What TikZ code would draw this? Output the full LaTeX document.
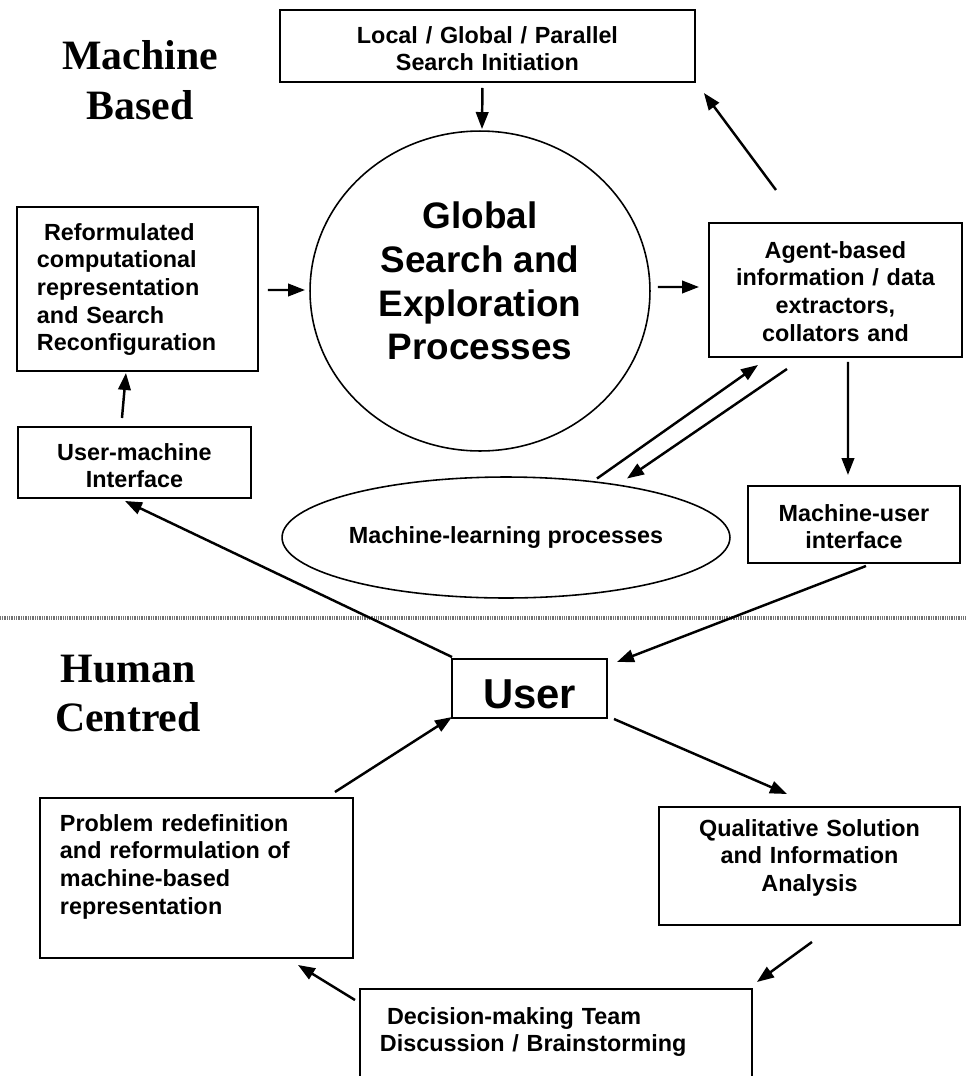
\documentclass[tikz,border=0pt]{standalone}
\usepackage{fontspec}
\setmainfont{Liberation Sans}
\newfontfamily\headfont{Liberation Serif}
\usetikzlibrary{shapes.geometric, arrows.meta, positioning, calc}
\tikzset{
    box/.style={
        rectangle, draw=black, line width=1.1pt, inner xsep=0.4cm, inner ysep=0pt,
        outer sep=0pt, anchor=north west, align=center,
        font=\fontsize{13.3}{15.7}\selectfont\bfseries
    },
    leftbox/.style={
        box, align=left
    },
    bubble/.style={
        ellipse, draw=black, line width=0.9pt, inner sep=0pt, outer sep=0pt,
        align=center, font=\fontsize{13.3}{15.7}\selectfont\bfseries
    },
    arrow/.style={
        -{Triangle[length=0.34cm, width=0.25cm]}, line width=1.4pt
    },
    sidelabel/.style={
        align=center, font=\headfont\bfseries\fontsize{23.8}{28.3}\selectfont
    },
    divider/.style={
        line width=0.08cm, black!55, dash pattern=on 0.5pt off 0.5pt
    }
}

\begin{document}
\begin{tikzpicture}[x=0.02cm, y=-0.02cm]

    \useasboundingbox (0,0) rectangle (966,1076);
    \clip (0,0) rectangle (966,1076);

    % machine based half
    \node[sidelabel] (lblmach) at (140,80) {Machine\\Based};

    \node[box, text width=7.5cm, text height=0.668cm, text depth=0.772cm]
        (init) at (280,10) {Local / Global / Parallel\\Search Initiation};
    \node[bubble, minimum width=6.8cm, minimum height=6.4cm, text depth=0.4cm,
          font=\fontsize{21}{24.9}\selectfont\bfseries]
        (glob) at (480,291) {Global\\Search and\\Exploration\\Processes};
    \node[leftbox, text width=4.02cm, text height=0.668cm, text depth=2.612cm]
        (reform) at (17,207) {\hspace*{0.3em}Reformulated\\computational\\representation\\and Search\\Reconfiguration};
    \node[box, text width=3.86cm, text height=0.668cm, text depth=0.752cm]
        (usermach) at (18,427) {User-machine\\Interface};
    \node[box, text width=4.26cm, text height=0.708cm, text depth=1.972cm]
        (agent) at (709,223) {Agent-based\\information / data\\extractors,\\collators and};
    \node[bubble, minimum width=8.96cm, minimum height=2.42cm]
        (learn) at (506,537.5) {Machine-learning processes};
    \node[box, text width=3.44cm, text height=0.708cm, text depth=0.832cm]
        (machuser) at (748,486) {Machine-user\\interface};

    \draw[divider] (0,618) -- (966,618);

    % human centred half
    \node[sidelabel] (lblhuman) at (128,693.5) {Human\\Centred};

    \node[box, anchor=center, minimum width=3.1cm, minimum height=1.18cm, inner sep=0pt,
          text height=0.78cm, text depth=0pt, font=\fontsize{23.8}{28}\selectfont\bfseries]
        (user) at (529.5,688.5) {User};
    \node[leftbox, text width=5.46cm, text height=0.668cm, text depth=2.532cm]
        (problem) at (40,798) {Problem redefinition\\and reformulation of\\machine-based\\representation};
    \node[box, text width=5.22cm, text height=0.588cm, text depth=1.772cm]
        (qual) at (659,807) {Qualitative Solution\\and Information\\Analysis};
    \node[leftbox, text width=7.04cm, text height=0.708cm, text depth=3cm]
        (decide) at (360,989) {\hspace*{0.3em}Decision-making Team\\Discussion / Brainstorming};

    \draw[arrow] ([shift={(-5,6)}]init.south)          -- ([shift={(2,-2)}]glob.north);
    \draw[arrow] ([shift={(10,1)}]reform.east)         -- ([shift={(-5,-1)}]glob.west);
    \draw[arrow] ([shift={(8,-4)}]glob.east)           -- ([shift={(-10,-3)}]agent.west);
    \draw[arrow] ([shift={(-12.5,-9)}]usermach.north)  -- ([shift={(-11.5,2)}]reform.south);
    \draw[arrow] ([shift={(-59.5,-33)}]agent.north)    -- ([shift={(9,11)}]init.south east);
    \draw[arrow] ([shift={(12.5,5)}]agent.south)       -- ([shift={(-6,-11)}]machuser.north);
    \draw[arrow] ([shift={(91,1.5)}]learn.north)       -- ([shift={(49,8)}]agent.south west);
    \draw[arrow] ([shift={(-48.5,12)}]agent.south)     -- ([shift={(121,1.5)}]learn.north);
    \draw[arrow] ([shift={(12,3)}]machuser.south)      -- ([shift={(10,3)}]user.north east);
    \draw[arrow] ([shift={(0,-2)}]user.north west)     -- ([shift={(-9.5,3)}]usermach.south);
    \draw[arrow] ([shift={(-18,-6)}]problem.north east) -- ([shift={(0,-1)}]user.south west);
    \draw[arrow] ([shift={(7,1)}]user.south east)      -- ([shift={(128,-13)}]qual.north west);
    \draw[arrow] ([shift={(2.5,17)}]qual.south)        -- ([shift={(5,-7)}]decide.north east);
    \draw[arrow] ([shift={(-5,11)}]decide.north west)  -- ([shift={(101.5,7)}]problem.south);

\end{tikzpicture}
\end{document}
